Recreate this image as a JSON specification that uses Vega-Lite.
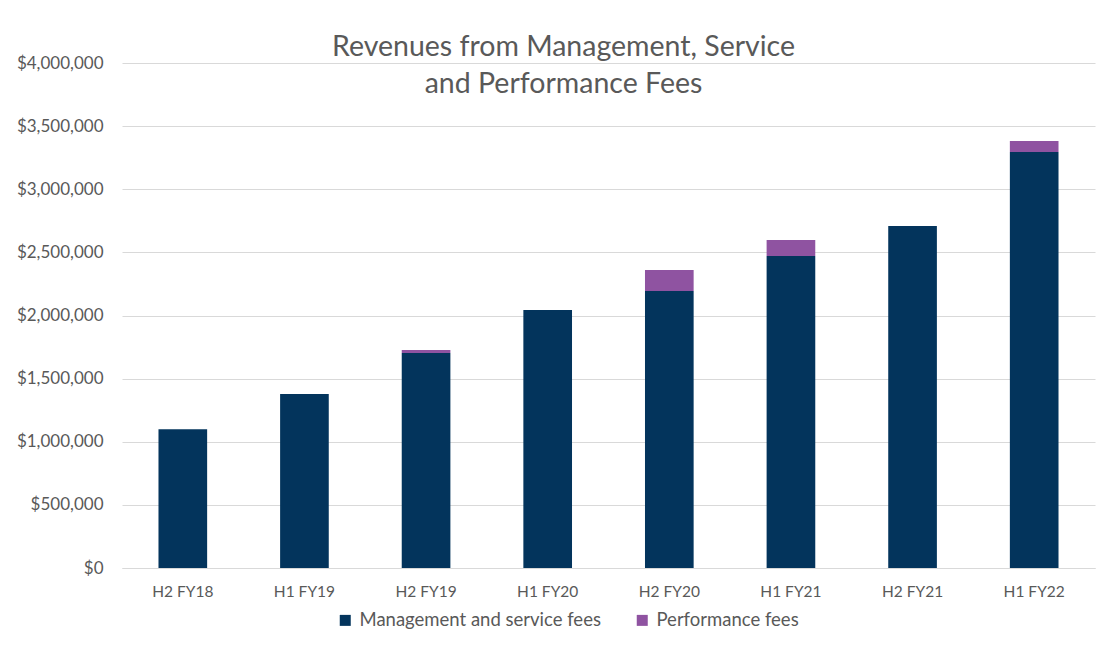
{
  "$schema": "https://vega.github.io/schema/vega-lite/v6.json",
  "width": 973,
  "height": 505,
  "autosize": {"type": "none"},
  "padding": {"left": 122, "top": 63, "right": 13, "bottom": 82},
  "background": "white",
  "title": {
    "text": ["Revenues from Management, Service", "and Performance Fees"],
    "anchor": "middle",
    "orient": "top",
    "offset": -44,
    "dx": -45,
    "fontSize": 28.5,
    "lineHeight": 37,
    "font": "Lato",
    "fontWeight": "normal",
    "color": "#595959",
    "frame": "group"
  },
  "data": {
    "values": [
      {"period": "H2 FY18", "type": "Management and service fees", "value": 1100000},
      {"period": "H1 FY19", "type": "Management and service fees", "value": 1378000},
      {"period": "H2 FY19", "type": "Management and service fees", "value": 1703000},
      {"period": "H2 FY19", "type": "Performance fees", "value": 24000},
      {"period": "H1 FY20", "type": "Management and service fees", "value": 2044000},
      {"period": "H2 FY20", "type": "Management and service fees", "value": 2194000},
      {"period": "H2 FY20", "type": "Performance fees", "value": 166000},
      {"period": "H1 FY21", "type": "Management and service fees", "value": 2471000},
      {"period": "H1 FY21", "type": "Performance fees", "value": 127000},
      {"period": "H2 FY21", "type": "Management and service fees", "value": 2709000},
      {"period": "H1 FY22", "type": "Management and service fees", "value": 3295000},
      {"period": "H1 FY22", "type": "Performance fees", "value": 87000}
    ]
  },
  "mark": {"type": "bar"},
  "encoding": {
    "x": {
      "field": "period",
      "type": "nominal",
      "sort": null,
      "scale": {"paddingInner": 0.6, "paddingOuter": 0.3},
      "axis": {
        "title": null,
        "labelAngle": 0,
        "labelFont": "Lato",
        "labelFontSize": 15.5,
        "labelColor": "#595959",
        "labelPadding": 16,
        "ticks": false,
        "domainColor": "#d9d9d9"
      }
    },
    "y": {
      "field": "value",
      "type": "quantitative",
      "stack": "zero",
      "scale": {"domain": [0, 4000000], "nice": false},
      "axis": {
        "title": null,
        "values": [0, 500000, 1000000, 1500000, 2000000, 2500000, 3000000, 3500000, 4000000],
        "format": "$,.0f",
        "labelFont": "Lato",
        "labelFontSize": 17,
        "labelColor": "#595959",
        "labelPadding": 19,
        "ticks": false,
        "domain": false,
        "gridColor": "#d9d9d9"
      }
    },
    "order": {"field": "type", "type": "nominal", "sort": "ascending"},
    "color": {
      "field": "type",
      "type": "nominal",
      "scale": {"domain": ["Management and service fees", "Performance fees"], "range": ["#03345C", "#8F53A1"]},
      "legend": {
        "title": null,
        "orient": "none",
        "direction": "horizontal",
        "legendX": 214,
        "legendY": 548,
        "symbolType": "square",
        "symbolSize": 121,
        "symbolStrokeWidth": 0,
        "labelFont": "Lato",
        "labelFontSize": 18.5,
        "labelLimit": 0,
        "labelColor": "#595959",
        "labelOffset": 5,
        "columnPadding": 32
      }
    }
  },
  "config": {"view": {"stroke": null}}
}
